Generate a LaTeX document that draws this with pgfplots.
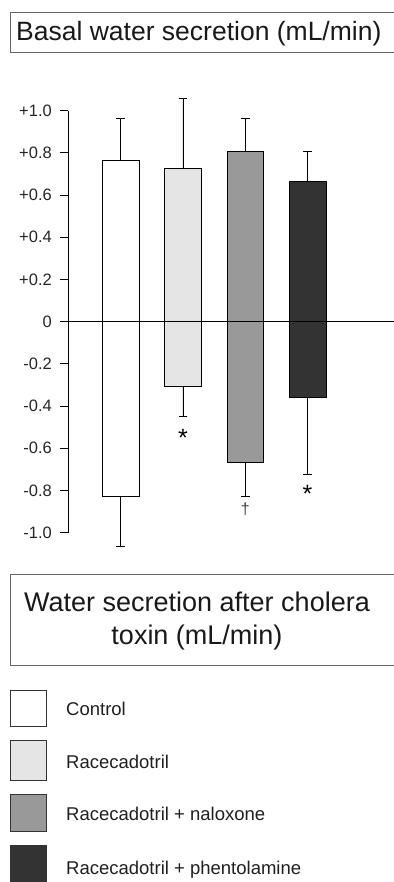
\documentclass[border=0pt]{standalone}
\usepackage{fontspec}
\setmainfont{Liberation Sans}
\usepackage{pgfplots}
\pgfplotsset{compat=1.18}
\definecolor{cCtrl}{HTML}{FFFFFF}
\definecolor{cRac}{HTML}{E5E5E5}
\definecolor{cNal}{HTML}{999999}
\definecolor{cPhe}{HTML}{333333}
\begin{document}
\begin{tikzpicture}
\useasboundingbox (0pt,0pt) rectangle (393pt,882pt);
% title 1
\draw[black!60, line width=0.9pt] (10pt,870pt) rectangle (402pt,830pt);
\node[anchor=base west, inner sep=0pt, font=\fontsize{26.5}{30}\selectfont, text=black!90] at (16pt,841.7pt) {Basal water secretion (mL/min)};
\begin{axis}[
  at={(68.3pt,349.3pt)}, anchor=south west,
  scale only axis, width=324.65pt, height=422pt,
  xmin=-0.841, xmax=4.37, ymin=-1, ymax=1,
  clip=false,
  axis x line=none, axis y line*=left,
  axis line style={black, line width=1pt},
  xtick=\empty,
  ytick={-1,-0.8,-0.6,-0.4,-0.2,0,0.2,0.4,0.6,0.8,1},
  yticklabels={-1.0,-0.8,-0.6,-0.4,-0.2,0,+0.2,+0.4,+0.6,+0.8,+1.0},
  tick align=outside, major tick length=8pt,
  tick style={black, line width=1pt},
  yticklabel style={font=\fontsize{16.5}{16.5}\selectfont, text=black!85, xshift=-5pt},
  ybar, bar width=36.7pt, bar shift=0pt,
  error bars/error bar style={black, line width=0.9pt},
  error bars/error mark=-,
  error bars/error mark options={rotate=90, black, mark size=4.3pt, line width=0.9pt},
]
% Control
\addplot[fill=cCtrl, draw=black, line width=0.9pt, error bars/.cd, y dir=plus, y explicit] coordinates {(0,0.763) +- (0,0.202)};
\addplot[fill=cCtrl, draw=black, line width=0.9pt, error bars/.cd, y dir=minus, y explicit] coordinates {(0,-0.826) +- (0,0.240)};
% Racecadotril
\addplot[fill=cRac, draw=black, line width=0.9pt, error bars/.cd, y dir=plus, y explicit] coordinates {(1,0.725) +- (0,0.334)};
\addplot[fill=cRac, draw=black, line width=0.9pt, error bars/.cd, y dir=minus, y explicit] coordinates {(1,-0.305) +- (0,0.142)};
% Racecadotril + naloxone
\addplot[fill=cNal, draw=black, line width=0.9pt, error bars/.cd, y dir=plus, y explicit] coordinates {(2,0.806) +- (0,0.159)};
\addplot[fill=cNal, draw=black, line width=0.9pt, error bars/.cd, y dir=minus, y explicit] coordinates {(2,-0.666) +- (0,0.160)};
% Racecadotril + phentolamine
\addplot[fill=cPhe, draw=black, line width=0.9pt, error bars/.cd, y dir=plus, y explicit] coordinates {(3,0.667) +- (0,0.139)};
\addplot[fill=cPhe, draw=black, line width=0.9pt, error bars/.cd, y dir=minus, y explicit] coordinates {(3,-0.358) +- (0,0.364)};
% zero line
\draw[black, line width=1pt] (axis cs:-0.97,0) -- (axis cs:4.6,0);
% significance marks
\node[anchor=base, inner sep=0pt, font=\fontsize{25}{25}\selectfont] at (axis cs:1,-0.592) {*};
\node[anchor=base, inner sep=0pt, font=\fontsize{16}{16}\selectfont, text=black!75] at (axis cs:2,-0.913) {†};
\node[anchor=base, inner sep=0pt, font=\fontsize{25}{25}\selectfont] at (axis cs:3,-0.856) {*};
\end{axis}
% title 2
\draw[black!60, line width=0.9pt] (10pt,308pt) rectangle (402pt,217pt);
\node[anchor=base, inner sep=0pt, font=\fontsize{27}{32}\selectfont, text=black!90] at (197pt,270.3pt) {Water secretion after cholera};
\node[anchor=base, inner sep=0pt, font=\fontsize{27}{32}\selectfont, text=black!90] at (197pt,237.7pt) {toxin (mL/min)};
% legend
\draw[black!80, line width=0.9pt, fill=cCtrl] (10pt,192pt) rectangle (46.7pt,156pt);
\draw[black!80, line width=0.9pt, fill=cRac] (10pt,141.3pt) rectangle (46.7pt,101.3pt);
\draw[black!80, line width=0.9pt, fill=cNal] (10pt,87.7pt) rectangle (46.7pt,50.3pt);
\draw[black!80, line width=0.9pt, fill=cPhe] (10pt,37pt) rectangle (46.7pt,-5pt);
\begin{scope}[every node/.style={anchor=base west, inner sep=0pt, font=\fontsize{18.5}{20}\selectfont, text=black!88}]
\node at (66pt,166pt) {Control};
\node at (66pt,113pt) {Racecadotril};
\node at (66pt,61pt) {Racecadotril + naloxone};
\node at (66pt,8pt) {Racecadotril + phentolamine};
\end{scope}
\end{tikzpicture}
\end{document}
